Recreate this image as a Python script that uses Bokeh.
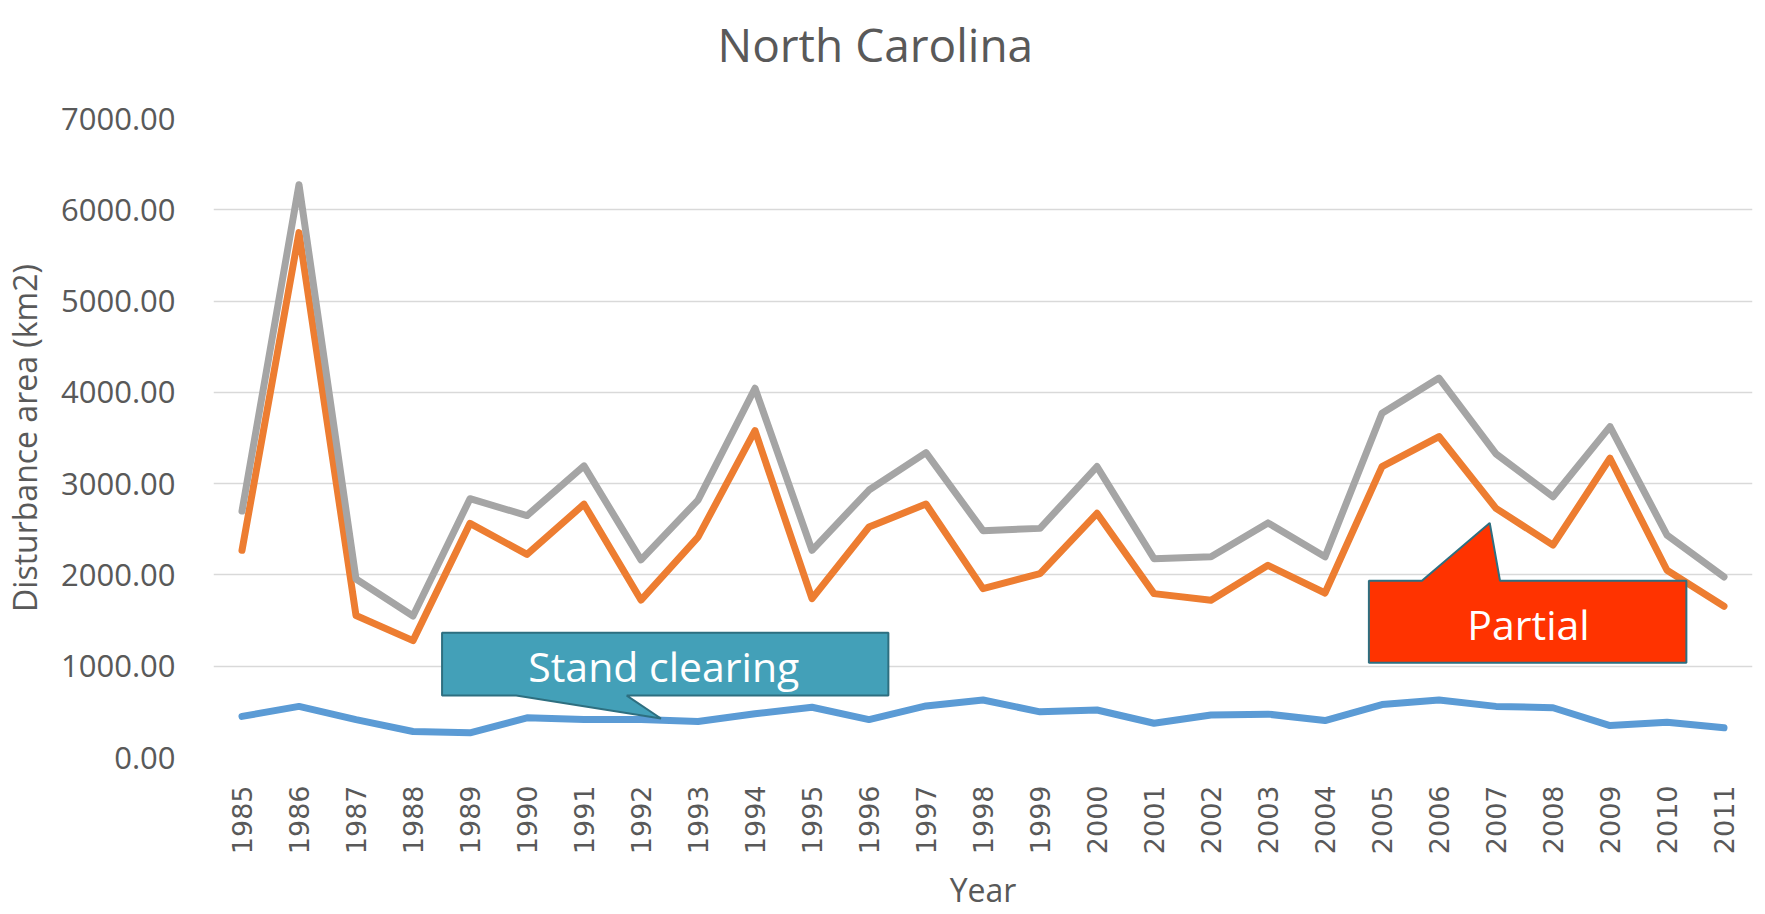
import math
from bokeh.plotting import figure
from bokeh.models import Range1d, FixedTicker, NumeralTickFormatter, Label, Title
from bokeh.embed import file_html
from bokeh.resources import INLINE

# ---- data ----
years = list(range(1985, 2012))
stand_clearing = [450, 560, 415, 285, 270, 435, 415, 415, 395, 480, 550, 415, 565, 630,
                  500, 520, 375, 465, 475, 405, 580, 630, 560, 545, 350, 385, 325]
partial = [2270, 5750, 1555, 1280, 2565, 2225, 2775, 1725, 2415, 3580, 1740, 2525, 2777, 1850,
           2015, 2675, 1795, 1722, 2105, 1802, 3187, 3516, 2729, 2326, 3278, 2051, 1656]
total = [2700, 6275, 1955, 1550, 2835, 2650, 3195, 2165, 2820, 4045, 2270, 2930, 3340, 2485,
         2510, 3187, 2178, 2198, 2570, 2198, 3772, 4157, 3326, 2857, 3625, 2436, 1978]
y_ticks = [0, 1000, 2000, 3000, 4000, 5000, 6000, 7000]

title_text = "North Carolina"
y_label = "Disturbance area (km2)"
x_label = "Year"
callout_stand = "Stand clearing"
callout_partial = "Partial"

TEXT = "#595959"

p = figure(width=1765, height=914, output_backend="svg", toolbar_location=None, title=None,
           x_range=Range1d(1984.5, 2011.5), y_range=Range1d(0, 7000),
           min_border_left=211, min_border_right=13, min_border_top=118, min_border_bottom=156)
p.outline_line_color = None
p.background_fill_color = "white"
p.border_fill_color = "white"

# title: spacer panel next to the frame, then the real title above it
p.add_layout(Title(text=" ", text_font_size="38px", standoff=0), "above")
p.add_layout(Title(text=title_text, align="left", offset=504, standoff=0,
                   text_font="Open Sans", text_font_style="normal",
                   text_font_size="46px", text_color=TEXT), "above")

# axes
p.xaxis.ticker = FixedTicker(ticks=years)
p.xaxis.major_label_overrides = {y: str(y) for y in years}
p.xaxis.major_label_orientation = math.pi / 2
p.xaxis.major_label_text_font = "DejaVu Sans"
p.xaxis.major_label_text_font_size = "27px"
p.xaxis.major_label_text_color = TEXT
p.xaxis.major_label_standoff = 22
p.xaxis.axis_label = x_label
p.xaxis.axis_label_text_font = "Open Sans"
p.xaxis.axis_label_text_font_style = "normal"
p.xaxis.axis_label_text_font_size = "32px"
p.xaxis.axis_label_text_color = TEXT
p.xaxis.axis_label_standoff = 11

p.yaxis.ticker = FixedTicker(ticks=y_ticks)
p.yaxis.formatter = NumeralTickFormatter(format="0.00")
p.yaxis.major_label_text_font = "Open Sans"
p.yaxis.major_label_text_font_size = "31px"
p.yaxis.major_label_text_color = TEXT
p.yaxis.major_label_standoff = 32
p.yaxis.axis_label = y_label
p.yaxis.axis_label_text_font = "Open Sans"
p.yaxis.axis_label_text_font_style = "normal"
p.yaxis.axis_label_text_font_size = "32px"
p.yaxis.axis_label_text_color = TEXT
p.yaxis.axis_label_standoff = 12

for ax in (p.xaxis, p.yaxis):
    ax.axis_line_color = None
    ax.major_tick_line_color = None
    ax.minor_tick_line_color = None

p.xgrid.visible = False
p.ygrid.grid_line_color = "#D9D9D9"
p.ygrid.grid_line_width = 1.5

# series
p.line(years, stand_clearing, line_color="#5B9BD5", line_width=7, line_join="round", line_cap="round")
p.line(years, partial, line_color="#ED7D31", line_width=7, line_join="round", line_cap="round")
p.line(years, total, line_color="#A5A5A5", line_width=7, line_join="round", line_cap="round")

# callouts (annotation geometry in data units)
stand_xs = [1988.51, 1996.34, 1996.34, 1991.75, 1992.35, 1989.81, 1988.51]
stand_ys = [1367, 1367, 678, 678, 427, 678, 678]
p.patch(stand_xs, stand_ys, fill_color="#43A0B8", line_color="#2E6F80", line_width=2)
p.add_layout(Label(x=1992.40, y=1000, text=callout_stand, text_align="center",
                   text_baseline="middle", text_color="white", text_font="Open Sans",
                   text_font_size="41px"))

part_xs = [2004.77, 2005.70, 2006.89, 2007.07, 2010.34, 2010.34, 2004.77]
part_ys = [1936, 1936, 2570, 1936, 1936, 1039, 1039]
p.patch(part_xs, part_ys, fill_color="#FF3300", line_color="#2E6F80", line_width=2)
p.add_layout(Label(x=2007.57, y=1460, text=callout_partial, text_align="center",
                   text_baseline="middle", text_color="white", text_font="Open Sans",
                   text_font_size="41px"))

open("out.html", "w").write(file_html(p, INLINE))
